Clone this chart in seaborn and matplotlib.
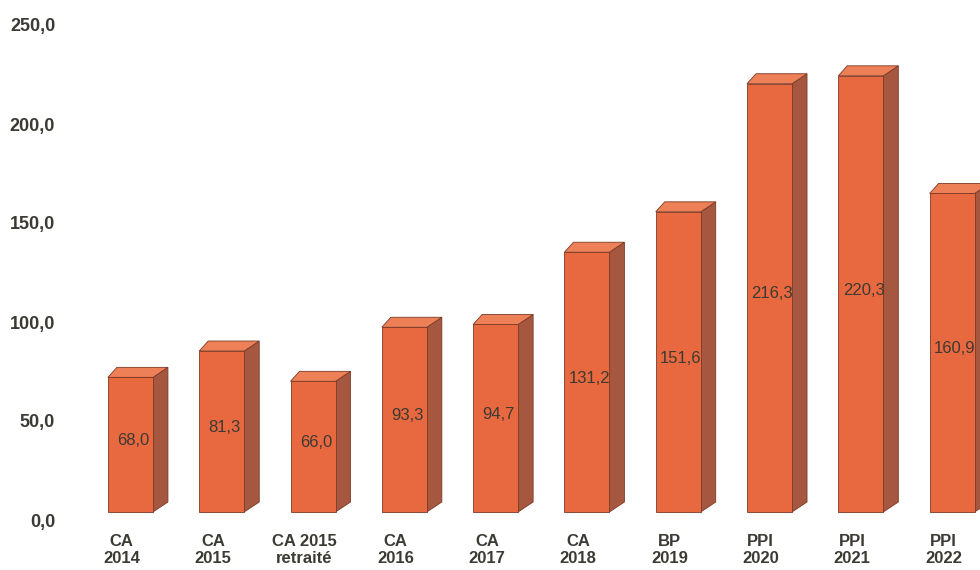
import matplotlib
matplotlib.use("Agg")
import matplotlib.pyplot as plt
from matplotlib.patches import Polygon
import seaborn as sns
import pandas as pd

categories = ["CA\n2014", "CA\n2015", "CA 2015\nretraité", "CA\n2016", "CA\n2017",
              "CA\n2018", "BP\n2019", "PPI\n2020", "PPI\n2021", "PPI\n2022"]
values = [68.0, 81.3, 66.0, 93.3, 94.7, 131.2, 151.6, 216.3, 220.3, 160.9]
value_labels = ["68,0", "81,3", "66,0", "93,3", "94,7", "131,2", "151,6", "216,3", "220,3", "160,9"]
yticks = [0, 50, 100, 150, 200, 250]
ytick_labels = ["0,0", "50,0", "100,0", "150,0", "200,0", "250,0"]

df = pd.DataFrame({"cat": categories, "val": values})

sns.set_theme(style="white")
plt.rcParams["font.family"] = ["Liberation Sans", "DejaVu Sans"]

FRONT = "#E8683F"
SIDE = "#A6573F"
TOP = "#EE8058"
EDGE = "#7A3A26"
TEXT = "#3c3a34"

fig = plt.figure(figsize=(9.8, 5.7), dpi=100)
ax = fig.add_axes([76 / 980, 50 / 570, 913 / 980, 495 / 570])

sns.barplot(data=df, x="cat", y="val", color=FRONT, width=0.493, saturation=1,
            edgecolor=EDGE, linewidth=0.6, ax=ax, zorder=3)

ax.set_xlim(-0.5, len(categories) - 0.5)
ax.set_ylim(0, 250)

# pixel-based 3D depth converted to data units
dx = 15 / 91.3
dy = 10 / 1.98
floor = 8 / 1.98
shift = 0.096
for p, v, lab in zip(ax.patches, values, value_labels):
    p.set_x(p.get_x() + shift)
    p.set_y(floor)
    x0 = p.get_x()
    w = p.get_width()
    h = p.get_height() + floor
    x1 = x0 + w
    side = Polygon([(x1, floor), (x1 + dx, floor + dy), (x1 + dx, h + dy), (x1, h)],
                   closed=True, facecolor=SIDE, edgecolor=EDGE, linewidth=0.6, zorder=2.9)
    top = Polygon([(x0, h), (x0 + dx * 0.6, h + dy), (x1 + dx, h + dy), (x1, h)],
                  closed=True, facecolor=TOP, edgecolor=EDGE, linewidth=0.6, zorder=2.9)
    ax.add_patch(side)
    ax.add_patch(top)
    ax.text(x0 + w / 2 + 0.03, v / 2 + 6, lab, ha="center", va="center", fontsize=12,
            color=TEXT, zorder=5)

ax.set_yticks(yticks)
ax.set_yticklabels(ytick_labels, fontsize=13, fontweight="bold", color=TEXT)
ax.set_xticks(range(len(categories)))
ax.set_xticklabels(categories, fontsize=12, fontweight="bold", color=TEXT, linespacing=1.15)
ax.tick_params(axis="x", length=0, pad=10)
ax.tick_params(axis="y", length=0, pad=15)
ax.set_xlabel("")
ax.set_ylabel("")
for s in ax.spines.values():
    s.set_visible(False)
ax.grid(False)

fig.savefig("out.png", dpi=100, facecolor="white")
